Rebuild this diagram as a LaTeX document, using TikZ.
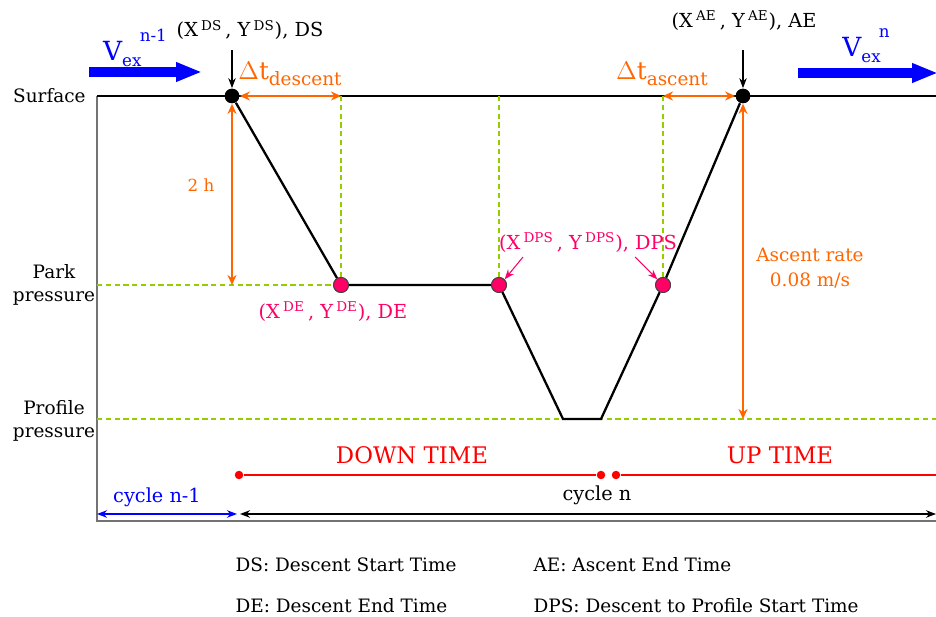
\documentclass[tikz,border=0pt]{standalone}
\usepackage{fontspec}
\setmainfont{DejaVu Serif}
\usetikzlibrary{arrows.meta}
\definecolor{vorange}{RGB}{255,102,0}
\definecolor{vpink}{RGB}{255,0,102}
\definecolor{vgreen}{RGB}{150,205,0}
\definecolor{vblue}{RGB}{0,0,255}
\definecolor{vred}{RGB}{255,0,0}

\newcommand{\supx}[1]{\,\textsuperscript{#1}}
\newcommand{\vex}[1]{V\raisebox{-0.45ex}{\fontsize{9.5}{10}\selectfont ex}\kern-1pt\raisebox{1.4ex}{\fontsize{9.5}{10}\selectfont #1}}

\tikzset{
  blackdot/.style={circle, fill=black, inner sep=0pt, minimum size=0.29cm},
  pinkdot/.style={circle, draw=black!75, line width=0.5pt, fill=vpink, inner sep=0pt, minimum size=0.3cm},
  reddot/.style={circle, fill=vred, inner sep=0pt, minimum size=0.17cm},
  guide/.style={draw=vgreen, dash pattern=on 3pt off 2pt, line width=0.8pt},
  orangearrow/.style={<->, vorange, line width=1pt, >={Stealth[length=2mm,width=1.8mm]}},
  bluearrow/.style={-{Triangle[length=0.52cm,width=0.36cm]}, vblue, line width=0.2cm},
  timebar/.style={vred, line width=1.4pt},
  axisline/.style={black!55, line width=1pt},
}

\begin{document}
\begin{tikzpicture}[x=0.02cm, y=-0.02cm, >={Stealth[length=2mm]}, line width=0.7pt,
  font=\fontsize{10.5}{13}\selectfont]
  \useasboundingbox (0,0) rectangle (936,617);

  % axes
  \coordinate (top) at (97,96);
  \coordinate (origin) at (97,521);
  \coordinate (xend) at (936,521);
  \coordinate (surfend) at (936,96);
  \draw[axisline] (top) -- (origin) -- (xend);
  \draw (top) -- (surfend);
  \node[left, inner sep=1pt] (surflbl) at (88,96) {Surface};
  \node[align=center] (parklbl) at (54,285) {Park\\pressure};
  \node[align=center] (proflbl) at (54,421) {Profile\\pressure};

  % trajectory points
  \node[blackdot] (ds) at (232,96) {};
  \node[pinkdot] (de) at (341,285) {};
  \node[pinkdot] (dps1) at (499,285) {};
  \coordinate (pb1) at (563,419);
  \coordinate (pb2) at (601,419);
  \node[pinkdot] (dps2) at (663,285) {};
  \node[blackdot] (ae) at (743,96) {};
  \coordinate (profend) at (936,419);

  % guide lines
  \draw[guide] (top |- de) -- (de);
  \draw[guide] (top |- pb1) -- (profend);
  \draw[guide] (de) -- (de |- top);
  \draw[guide] (dps1) -- (dps1 |- top);
  \draw[guide] (dps2) -- (dps2 |- top);

  % trajectory
  \draw[line width=1.3pt] (ds) -- (de) -- (dps1) -- (pb1) -- (pb2) -- (dps2) -- (ae);
  \node[blackdot] at (ds) {};
  \node[blackdot] at (ae) {};
  \node[pinkdot] at (de) {};
  \node[pinkdot] at (dps1) {};
  \node[pinkdot] at (dps2) {};

  % orange dimensions
  \draw[orangearrow] (ds.east) -- (ds -| de);
  \draw[orangearrow] (ae.west) -- (ae -| dps2);
  \draw[orangearrow] (ds.south) -- (ds |- de);
  \draw[orangearrow] (ae.south) -- (ae |- pb1);
  \node[vorange, font=\fontsize{14}{15}\selectfont] (dtdes) at (290,74) {$\Delta$t\raisebox{-0.5ex}{\fontsize{10.5}{11}\selectfont descent}};
  \node[vorange, font=\fontsize{14}{15}\selectfont] (dtasc) at (662,74) {$\Delta$t\raisebox{-0.5ex}{\fontsize{10.5}{11}\selectfont ascent}};
  \node[vorange, font=\fontsize{9.5}{11}\selectfont] (hlbl) at (201,185) {2 h};
  \node[vorange, align=center, font=\fontsize{10.5}{14}\selectfont] (ratelbl) at (810,268) {Ascent rate\\0.08 m/s};

  % point labels
  \node[font=\fontsize{11}{13}\selectfont] (dslbl) at (250,30) {(X\supx{DS}\,, Y\supx{DS}), DS};
  \node[font=\fontsize{11}{13}\selectfont] (aelbl) at (744,21) {(X\supx{AE}\,, Y\supx{AE}), AE};
  \coordinate (dsarr) at (232,50);
  \coordinate (aearr) at (743,50);
  \draw[->, line width=0.6pt] (dsarr) -- (ds.north);
  \draw[->, line width=0.6pt] (aearr) -- (ae.north);
  \node[vpink, font=\fontsize{11}{13}\selectfont] (delbl) at (333,312) {(X\supx{DE}\,, Y\supx{DE}), DE};
  \node[vpink, font=\fontsize{11}{13}\selectfont] (dpslbl) at (588,242) {(X\supx{DPS}\,, Y\supx{DPS}), DPS};
  \draw[->, vpink, line width=0.6pt] (523,257) -- (dps1.north east);
  \draw[->, vpink, line width=0.6pt] (635,257) -- (dps2.north west);

  % current velocity
  \coordinate (vin1) at (89,72);
  \coordinate (vin2) at (202,72);
  \coordinate (vout1) at (798,73);
  \coordinate (vout2) at (938,73);
  \draw[bluearrow] (vin1) -- (vin2);
  \draw[bluearrow] (vout1) -- (vout2);
  \node[vblue, font=\fontsize{15}{17}\selectfont] (vinlbl) at (135,48) {\vex{n-1}};
  \node[vblue, font=\fontsize{15}{17}\selectfont] (voutlbl) at (866,46) {\vex{n}};

  % down / up time
  \node[reddot] (dt1) at (239,475) {};
  \node[reddot] (dt2) at (601,475) {};
  \node[reddot] (ut1) at (616,475) {};
  \coordinate (ut2) at (936,475);
  \draw[timebar] (dt1) -- (dt2);
  \draw[timebar] (ut1) -- (ut2);
  \node[vred, font=\fontsize{13}{15}\selectfont] (downlbl) at (412,455) {DOWN TIME};
  \node[vred, font=\fontsize{13}{15}\selectfont] (uplbl) at (780,455) {UP TIME};

  % cycles
  \coordinate (c0) at (97,514);
  \coordinate (c1) at (237,514);
  \coordinate (c2) at (240,514);
  \coordinate (c3) at (936,514);
  \draw[<->, vblue, line width=1.5pt] (c0) -- (c1);
  \draw[<->, line width=1.5pt] (c2) -- (c3);
  \node[vblue, font=\fontsize{11}{13}\selectfont] (cyc1) at (157,497) {cycle n-1};
  \node[font=\fontsize{11}{13}\selectfont] (cyc2) at (597,495) {cycle n};

  % legend
  \node[right, inner sep=0pt] (leg1) at (235,565) {DS: Descent Start Time};
  \node[right, inner sep=0pt] (leg2) at (235,606) {DE: Descent End Time};
  \node[right, inner sep=0pt] (leg3) at (533,565) {AE: Ascent End Time};
  \node[right, inner sep=0pt] (leg4) at (533,606) {DPS: Descent to Profile Start Time};
\end{tikzpicture}
\end{document}
